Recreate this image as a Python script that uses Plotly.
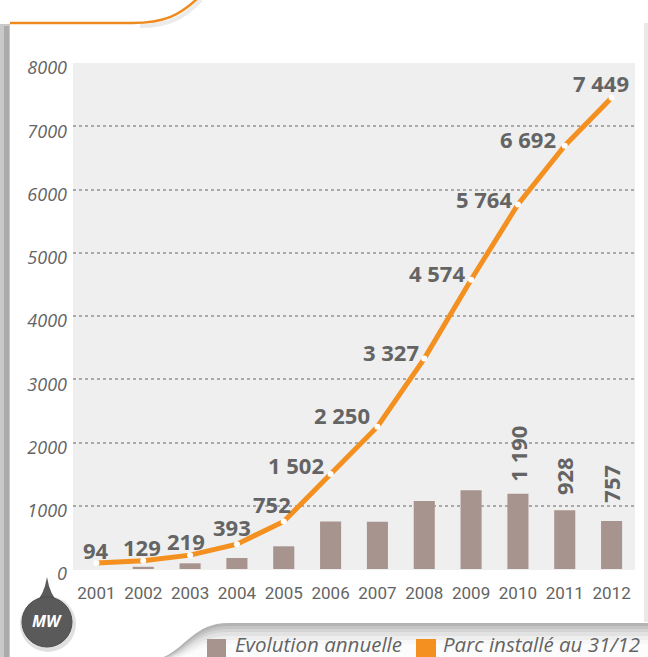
import plotly.graph_objects as go

# ---------------- data ----------------
years = ["2001", "2002", "2003", "2004", "2005", "2006",
         "2007", "2008", "2009", "2010", "2011", "2012"]
parc_installe = [94, 129, 219, 393, 752, 1502, 2250, 3327, 4574, 5764, 6692, 7449]
evolution_annuelle = [None, 35, 90, 174, 359, 750, 748, 1077, 1247, 1190, 928, 757]
parc_labels = ["94", "129", "219", "393", "752", "1 502", "2 250", "3 327",
               "4 574", "5 764", "6 692", "7 449"]
bar_label_years = ["2010", "2011", "2012"]
bar_label_values = [1190, 928, 757]
bar_label_texts = ["1 190", "928", "757"]
y_tick_values = [0, 1000, 2000, 3000, 4000, 5000, 6000, 7000, 8000]
y_tick_texts = ["0", "1000", "2000", "3000", "4000", "5000", "6000", "7000", "8000"]
legend_names = ["Evolution annuelle", "Parc installé au 31/12"]
unit_label = "MW"

# ---------------- style ----------------
W, H = 648, 657
ML, MR, MT, MB = 73, 13, 63, 88
PW, PH = W - ML - MR, H - MT - MB
ORANGE = "#F39020"
BAR = "#A8948F"
TXT = "#646464"

label_offsets = [(0, 13), (-1, 14), (-4, 14), (-5, 17), (-12, 17), (-35, 9),
                 (-35, 12), (-33, 7), (-34, 7), (-34, 5), (-37, 7), (-11, 15)]
bar_label_shift = [10, 13, 16]


def px(x):
    return (x - ML) / PW


def py(y):
    return (H - MB - y) / PH


def P(x, y):
    return f"{px(x):.5f},{py(y):.5f}"


fig = go.Figure()

fig.add_trace(go.Bar(
    x=years, y=evolution_annuelle, name=legend_names[0],
    marker=dict(color=BAR, line=dict(width=0)), width=0.45,
    showlegend=False, hoverinfo="x+y",
))
fig.add_trace(go.Scatter(
    x=years, y=parc_installe, name=legend_names[1], mode="lines+markers",
    line=dict(color=ORANGE, width=5),
    marker=dict(color="white", size=6, line=dict(width=0)),
    showlegend=False,
))

annotations = []
for yr, v, t, (dx, dy) in zip(years, parc_installe, parc_labels, label_offsets):
    annotations.append(dict(
        x=years.index(yr), y=v, xref="x", yref="y", text=t, showarrow=False,
        xshift=dx, yshift=dy, xanchor="center", yanchor="middle",
        font=dict(family="Open Sans", size=22, color=TXT, weight="bold"),
    ))
for yr, v, t, s in zip(bar_label_years, bar_label_values, bar_label_texts, bar_label_shift):
    annotations.append(dict(
        x=years.index(yr), y=v, xref="x", yref="y", text=t, showarrow=False,
        textangle=-90, yshift=s, xanchor="center", yanchor="bottom",
        font=dict(family="Open Sans", size=22, color=TXT, weight="bold"),
    ))

# legend (drawn manually)
annotations.append(dict(
    x=px(233), y=py(644), xref="paper", yref="paper", text=legend_names[0],
    showarrow=False, xanchor="left", yanchor="middle",
    font=dict(family="Open Sans", size=20.5, color=TXT, style="italic"),
))
annotations.append(dict(
    x=px(441), y=py(644), xref="paper", yref="paper", text=legend_names[1],
    showarrow=False, xanchor="left", yanchor="middle",
    font=dict(family="Open Sans", size=20.5, color=TXT, style="italic"),
))
annotations.append(dict(
    x=px(47), y=py(621), xref="paper", yref="paper", text=unit_label,
    showarrow=False, xanchor="center", yanchor="middle",
    font=dict(family="Open Sans", size=16, color="white", weight="bold", style="italic"),
))

shapes = []

# left shadow strip
shapes.append(dict(type="rect", xref="paper", yref="paper", x0=px(0), x1=px(10),
                   y0=py(24), y1=py(657), fillcolor="#c9c9c9", line=dict(width=0), layer="above"))
shapes.append(dict(type="rect", xref="paper", yref="paper", x0=px(4), x1=px(9),
                   y0=py(26), y1=py(657), fillcolor="#ababab", line=dict(width=0), layer="above"))
# right thin edge
shapes.append(dict(type="rect", xref="paper", yref="paper", x0=px(644), x1=px(648),
                   y0=py(23), y1=py(622), fillcolor="#e9e9e9", line=dict(width=0), layer="above"))

# orange top frame line
shapes.append(dict(type="path", xref="paper", yref="paper",
                   path=f"M{P(10,23)} L{P(132,23)} C{P(165,23)} {P(180,15)} {P(198,-2)}",
                   line=dict(color="#EF8A1F", width=2.5), layer="above"))
shapes.append(dict(type="path", xref="paper", yref="paper",
                   path=f"M{P(140,26)} C{P(170,26)} {P(184,17)} {P(201,0)}",
                   line=dict(color="rgba(0,0,0,0.08)", width=4), layer="above"))

# bottom legend tab with shaded edge
shade = [(0, "#b3b3b3"), (3, "#c4c4c4"), (6, "#d4d4d4"), (9, "#e2e2e2"),
         (13, "#eeeeee"), (17, "#f7f7f7"), (21, "#fcfcfc")]
for d, col in shade:
    pth = (f"M{P(148 + d * 0.6, 660)} C{P(182 + d * 0.4, 660)} {P(188 + d * 0.3, 623 + d)} "
           f"{P(228, 623 + d)} L{P(650, 623 + d)} L{P(650, 660)} Z")
    shapes.append(dict(type="path", xref="paper", yref="paper", path=pth,
                       fillcolor=col, line=dict(width=0), layer="above"))

# legend squares
shapes.append(dict(type="rect", xref="paper", yref="paper", x0=px(207), x1=px(226),
                   y0=py(639), y1=py(658), fillcolor=BAR, line=dict(width=0), layer="above"))
shapes.append(dict(type="rect", xref="paper", yref="paper", x0=px(416), x1=px(436),
                   y0=py(639), y1=py(658), fillcolor=ORANGE, line=dict(width=0), layer="above"))

# MW badge
shapes.append(dict(type="circle", xref="paper", yref="paper", x0=px(20), x1=px(76),
                   y0=py(596), y1=py(652), fillcolor="rgba(0,0,0,0.12)", line=dict(width=0), layer="above"))
shapes.append(dict(type="path", xref="paper", yref="paper",
                   path=f"M{P(34,604)} Q{P(44,596)} {P(47,577)} Q{P(50,596)} {P(60,604)} Z",
                   fillcolor="#5a5a5a", line=dict(width=0), layer="above"))
shapes.append(dict(type="circle", xref="paper", yref="paper", x0=px(22), x1=px(72),
                   y0=py(597), y1=py(647), fillcolor="#5a5a5a", line=dict(color="#4d4d4d", width=1),
                   layer="above"))

fig.update_layout(
    width=W, height=H,
    margin=dict(l=ML, r=MR, t=MT, b=MB, pad=0, autoexpand=False),
    paper_bgcolor="white", plot_bgcolor="#EFEFEF",
    showlegend=False,
    annotations=annotations, shapes=shapes,
    font=dict(family="Open Sans", color=TXT),
    xaxis=dict(
        type="category", range=[-0.5, 11.5], showgrid=False, zeroline=False,
        showline=False, ticks="", ticklabelstandoff=12, tickangle=0, automargin=False,
        tickfont=dict(family="Roboto", size=17, color=TXT),
        fixedrange=True,
    ),
    yaxis=dict(
        range=[0, 8000], tickvals=y_tick_values, ticktext=y_tick_texts,
        showgrid=True, gridcolor="#aaaaaa", griddash="dot", gridwidth=1.5,
        zeroline=True, zerolinecolor="#EFEFEF", zerolinewidth=1, automargin=False,
        showline=False, ticks="", ticklabelstandoff=5, ticklabelshift=5,
        tickfont=dict(family="Open Sans", size=18, color=TXT, style="italic"),
        fixedrange=True,
    ),
)

fig.write_html(
    "out.html",
    config={"displayModeBar": False},
    post_script="document.body.style.margin='0';document.body.style.overflow='hidden';",
)
